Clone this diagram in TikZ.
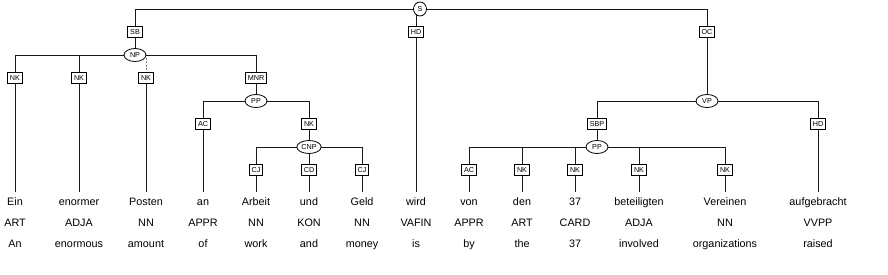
\documentclass[tikz,border=0pt]{standalone}
\usepackage{fontspec}
\setmainfont{Liberation Sans}
\usetikzlibrary{shapes.geometric}
\pgfdeclarelayer{bg}
\pgfsetlayers{bg,main}
\begin{document}
\begin{tikzpicture}[x=1pt,y=-1pt,
  cat/.style={ellipse,draw,fill=white,line width=0.8pt,font=\fontsize{7.2}{8}\selectfont,inner xsep=1pt,inner ysep=0pt,minimum width=22pt,minimum height=13pt},
  lab/.style={rectangle,draw,fill=white,line width=0.8pt,font=\fontsize{7.2}{8}\selectfont,inner xsep=2.3pt,inner ysep=0pt,minimum height=10.5pt},
  word/.style={font=\fontsize{10.8}{12}\selectfont,anchor=base,inner xsep=0pt,inner ysep=5.5pt,text height=8pt,text depth=2.5pt},
  edge/.style={line width=0.8pt,black!90},
  crossedge/.style={line width=0.8pt,gray,dash pattern=on 2pt off 1.5pt}]
\useasboundingbox (0,0) rectangle (888,275);
% category nodes and edge labels
\node[cat,minimum width=13pt,minimum height=14pt] (S) at (420,9) {S};
\node[lab] (SB) at (135,32) {SB};
\node[lab] (HD) at (416,32) {HD};
\node[lab] (OC) at (707,32) {OC};
\node[cat] (NP) at (135,55) {NP};
\node[lab] (nk1) at (15,78) {NK};
\node[lab] (nk2) at (79,78) {NK};
\node[lab] (nk3) at (146,78) {NK};
\node[lab] (mnr) at (256,78) {MNR};
\node[cat] (pp1) at (256,101) {PP};
\node[lab] (ac1) at (203,124) {AC};
\node[lab] (nk4) at (309,124) {NK};
\node[cat] (cnp) at (309,147) {CNP};
\node[lab] (cj1) at (256,170) {CJ};
\node[lab] (cd) at (309,170) {CD};
\node[lab] (cj2) at (362,170) {CJ};
\node[cat] (vp) at (707,101) {VP};
\node[lab] (sbp) at (597,124) {SBP};
\node[lab] (hd2) at (818,124) {HD};
\node[cat] (pp2) at (597,147) {PP};
\node[lab] (ac2) at (469,170) {AC};
\node[lab] (nk5) at (522,170) {NK};
\node[lab] (nk6) at (575,170) {NK};
\node[lab] (nk7) at (639,170) {NK};
\node[lab] (nk8) at (725,170) {NK};
% words, tags, glosses
\foreach \i/\x/\w/\t/\g in {1/15/Ein/ART/An, 2/79/enormer/ADJA/enormous, 3/146/Posten/NN/amount,
  4/203/an/APPR/of, 5/256/Arbeit/NN/work, 6/309/und/KON/and, 7/362/Geld/NN/money,
  8/416/wird/VAFIN/is, 9/469/von/APPR/by, 10/522/den/ART/the, 11/575/37/CARD/37,
  12/639/beteiligten/ADJA/involved, 13/725/Vereinen/NN/organizations, 14/818/aufgebracht/VVPP/raised}{
  \node[word] (w\i) at (\x,205.5) {\w};
  \node[word] (t\i) at (\x,226.5) {\t};
  \node[word] (g\i) at (\x,247.5) {\g};
}
\begin{pgfonlayer}{bg}
\draw[crossedge] (NP.center) -| (nk3.center);
\draw[edge] (S.center) -| (SB.center);
\draw[edge] (S.center) -| (HD.center);
\draw[edge] (S.center) -| (OC.center);
\draw[edge] (SB.center) -- (NP.center);
\draw[edge] (NP.center) -| (nk1.center);
\draw[edge] (NP.center) -| (nk2.center);
\draw[edge] (NP.center) -| (mnr.center);
\draw[edge] (nk1.center) -- (w1.north);
\draw[edge] (nk2.center) -- (w2.north);
\draw[edge] (nk3.center) -- (w3.north);
\draw[edge] (mnr.center) -- (pp1.center);
\draw[edge] (pp1.center) -| (ac1.center);
\draw[edge] (pp1.center) -| (nk4.center);
\draw[edge] (ac1.center) -- (w4.north);
\draw[edge] (nk4.center) -- (cnp.center);
\draw[edge] (cnp.center) -| (cj1.center);
\draw[edge] (cnp.center) -- (cd.center);
\draw[edge] (cnp.center) -| (cj2.center);
\draw[edge] (cj1.center) -- (w5.north);
\draw[edge] (cd.center) -- (w6.north);
\draw[edge] (cj2.center) -- (w7.north);
\draw[edge] (HD.center) -- (w8.north);
\draw[edge] (OC.center) -- (vp.center);
\draw[edge] (vp.center) -| (sbp.center);
\draw[edge] (vp.center) -| (hd2.center);
\draw[edge] (hd2.center) -- (w14.north);
\draw[edge] (sbp.center) -- (pp2.center);
\draw[edge] (pp2.center) -| (ac2.center);
\draw[edge] (pp2.center) -| (nk5.center);
\draw[edge] (pp2.center) -| (nk6.center);
\draw[edge] (pp2.center) -| (nk7.center);
\draw[edge] (pp2.center) -| (nk8.center);
\draw[edge] (ac2.center) -- (w9.north);
\draw[edge] (nk5.center) -- (w10.north);
\draw[edge] (nk6.center) -- (w11.north);
\draw[edge] (nk7.center) -- (w12.north);
\draw[edge] (nk8.center) -- (w13.north);
\end{pgfonlayer}
\end{tikzpicture}
\end{document}
